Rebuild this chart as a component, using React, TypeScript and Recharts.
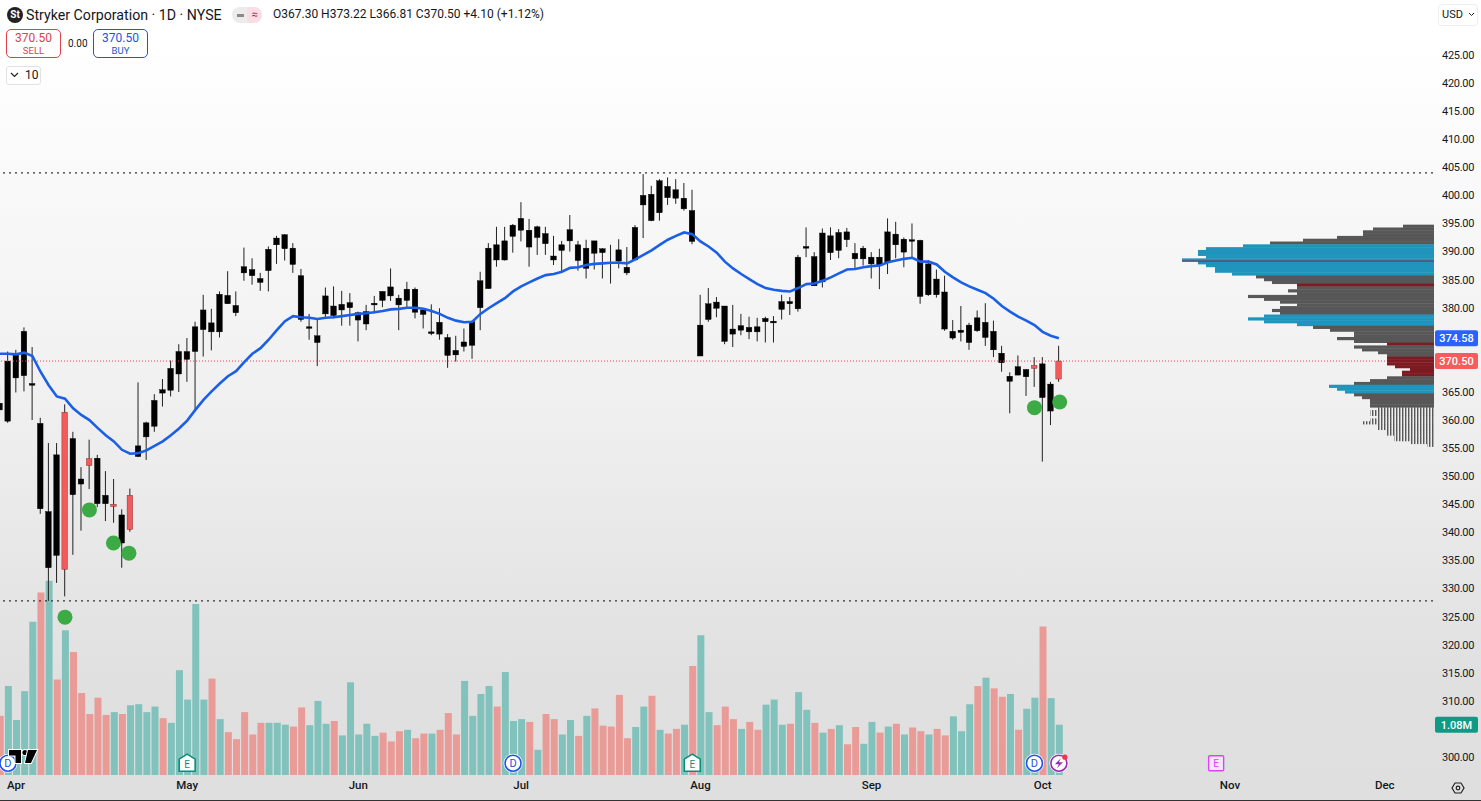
import { Bar, BarChart, Cell, ComposedChart, Line, ReferenceDot, ReferenceLine, XAxis, YAxis } from 'recharts'

const highs = [
  366.0, 372.2, 372.5, 376.5, 373.0, 360.4, 355.9, 355.9, 362.8, 357.9,
  351.6, 356.5, 353.8, 350.9, 349.5, 344.1, 347.8, 366.7, 359.7, 364.6,
  367.3, 370.6, 373.5, 374.6, 377.5, 382.3, 379.8, 382.9, 386.5, 382.9,
  390.7, 388.8, 386.2, 390.9, 392.8, 393.1, 391.5, 386.9, 378.9, 378.1,
  383.6, 383.8, 383.0, 382.6, 379.3, 380.5, 382.1, 382.9, 387.0, 382.3,
  384.6, 383.6, 379.9, 380.6, 379.9, 375.3, 375.0, 376.3, 377.7, 386.4,
  391.5, 394.4, 394.4, 394.9, 398.8, 395.8, 394.6, 394.4, 392.8, 391.9,
  396.5, 391.9, 392.1, 391.9, 390.6, 391.2, 392.2, 390.8, 394.7, 403.8,
  401.7, 402.9, 403.2, 402.9, 402.2, 401.0, 382.3, 383.5, 381.9, 380.3,
  380.5, 378.9, 378.4, 378.2, 378.4, 378.5, 382.3, 381.9, 389.4, 394.3,
  389.9, 394.1, 394.3, 394.0, 394.2, 391.5, 391.0, 389.9, 390.5, 395.9,
  395.3, 392.5, 395.0, 392.1, 388.5, 386.8, 385.7, 377.8, 380.3, 377.3,
  379.5, 380.8, 377.7, 373.2, 368.5, 371.5, 369.1, 371.2, 371.2, 366.8, 373.22,
]

const bodyTops = [
  363.0, 370.5, 371.6, 375.8, 366.5, 359.4, 343.7, 353.8, 361.4, 356.7,
  349.5, 353.1, 353.2, 346.6, 345.0, 343.1, 346.6, 355.4, 359.5, 363.5,
  365.4, 369.2, 372.2, 372.2, 376.6, 379.6, 377.3, 382.4, 382.2, 380.4,
  387.3, 386.8, 385.2, 390.4, 392.4, 393.0, 390.6, 385.7, 376.6, 375.0,
  382.1, 380.3, 380.6, 380.9, 379.1, 379.3, 380.8, 382.9, 383.7, 381.7,
  383.3, 383.3, 379.6, 375.7, 377.4, 374.7, 372.4, 373.9, 377.5, 384.8,
  390.6, 391.2, 391.9, 394.7, 395.9, 393.8, 394.4, 393.2, 389.2, 391.2,
  393.9, 391.2, 390.6, 391.9, 390.5, 388.1, 390.3, 387.2, 394.3, 400.0,
  400.2, 402.6, 401.6, 401.0, 399.5, 397.3, 376.9, 380.7, 381.0, 380.3,
  376.2, 376.8, 376.5, 376.6, 378.1, 377.6, 381.1, 381.1, 389.0, 390.9,
  389.1, 393.3, 392.8, 393.4, 393.5, 389.7, 390.6, 389.0, 389.0, 393.5,
  393.1, 392.2, 392.1, 392.0, 387.8, 385.1, 382.8, 375.8, 376.0, 376.9,
  378.2, 377.4, 375.8, 371.9, 367.8, 369.5, 369.0, 369.7, 370.0, 366.4, 370.5,
]

const bodyBottoms = [
  361.8, 359.8, 367.5, 367.9, 366.2, 344.2, 333.7, 335.9, 333.4, 346.7,
  348.6, 351.9, 345.1, 345.1, 344.6, 338.1, 340.5, 353.5, 357.0, 358.9,
  364.8, 365.3, 368.2, 370.8, 372.2, 376.1, 375.7, 375.7, 380.7, 379.1,
  386.2, 385.7, 384.5, 386.6, 391.2, 390.5, 387.7, 377.9, 376.5, 373.8,
  378.9, 378.6, 379.6, 380.0, 377.8, 377.1, 380.5, 381.3, 382.1, 380.5,
  381.3, 379.2, 378.8, 375.4, 375.3, 371.5, 371.6, 373.1, 373.3, 380.0,
  383.4, 388.5, 388.5, 392.7, 393.8, 390.8, 392.5, 391.4, 388.5, 390.2,
  391.9, 388.4, 387.0, 389.7, 389.8, 387.9, 388.3, 386.2, 388.5, 398.3,
  395.5, 396.9, 399.6, 399.5, 397.6, 391.8, 371.4, 377.9, 379.9, 374.0,
  375.3, 376.0, 375.7, 375.7, 377.5, 377.3, 379.7, 380.7, 379.8, 390.6,
  383.9, 384.6, 389.8, 390.2, 392.1, 388.7, 388.7, 387.8, 387.5, 388.0,
  391.2, 389.9, 391.9, 382.0, 382.3, 382.3, 376.2, 374.6, 375.6, 373.8,
  375.9, 374.7, 372.5, 370.2, 366.9, 368.0, 367.7, 369.2, 364.0, 361.6, 367.3,
]

const lows = [
  360.9, 359.5, 364.9, 365.1, 360.0, 343.3, 327.8, 331.0, 328.6, 336.0,
  340.3, 347.7, 344.5, 342.0, 341.7, 333.7, 340.1, 353.4, 352.9, 357.9,
  362.4, 364.2, 365.0, 366.8, 361.8, 371.3, 372.4, 374.7, 380.7, 378.5,
  384.8, 384.1, 383.0, 382.9, 387.8, 388.4, 386.2, 377.5, 374.3, 369.6,
  378.1, 378.1, 376.8, 376.8, 374.0, 376.0, 379.0, 380.1, 381.2, 376.0,
  380.1, 378.1, 376.3, 375.1, 374.3, 369.3, 370.4, 372.2, 370.9, 376.0,
  383.4, 387.3, 388.4, 389.8, 391.8, 387.3, 389.4, 389.4, 387.6, 386.4,
  390.0, 386.6, 385.2, 386.8, 385.2, 384.3, 387.0, 385.8, 388.5, 392.4,
  395.4, 395.5, 398.3, 398.5, 397.3, 391.3, 371.4, 377.5, 378.3, 373.5,
  373.0, 375.1, 374.4, 374.0, 373.8, 373.8, 377.9, 378.7, 379.3, 389.0,
  383.9, 383.6, 388.5, 388.8, 390.8, 387.0, 387.5, 385.2, 383.3, 386.0,
  388.8, 387.2, 388.8, 380.7, 382.1, 381.8, 375.9, 374.3, 374.0, 372.5,
  375.7, 373.2, 371.2, 368.6, 361.2, 368.0, 364.3, 365.9, 352.6, 359.1, 366.81,
]

const movingAverage = [
  371.8, 371.8, 371.7, 372.0, 371.4, 368.6, 366.2, 364.2, 363.8, 362.1,
  360.9, 360.0, 358.6, 357.3, 356.2, 354.7, 354.0, 354.1, 354.6, 355.4,
  356.2, 357.3, 358.5, 359.9, 361.8, 363.6, 365.1, 366.5, 367.8, 368.7,
  370.3, 371.8, 372.8, 374.3, 376.0, 377.6, 378.5, 378.3, 378.2, 378.0,
  378.2, 378.3, 378.5, 378.7, 378.9, 379.0, 379.2, 379.4, 379.7, 379.8,
  380.0, 380.0, 379.8, 379.4, 378.9, 378.2, 377.7, 377.4, 377.5, 378.9,
  379.9, 380.8, 381.7, 382.9, 383.8, 384.5, 385.2, 385.8, 386.0, 386.4,
  387.1, 387.2, 387.6, 387.8, 387.9, 388.0, 388.0, 387.9, 388.6, 389.4,
  390.2, 391.2, 392.1, 392.8, 393.4, 393.1, 391.8, 390.9, 389.8, 388.2,
  387.0, 386.0, 385.1, 384.2, 383.5, 383.2, 383.0, 382.9, 383.5, 384.2,
  384.3, 384.8, 385.4, 386.1, 386.8, 386.9, 387.2, 387.4, 387.5, 388.1,
  388.4, 388.7, 388.9, 388.2, 388.2, 387.7, 386.4, 385.4, 384.5, 383.8,
  383.2, 382.6, 381.6, 380.3, 379.3, 378.4, 377.7, 376.9, 375.7, 375.0, 374.58,
]

// millions of shares
const volumes = [
  1.27, 1.91, 1.18, 1.80, 3.29, 3.92, 4.17, 2.05, 3.11, 2.64,
  1.76, 1.31, 1.66, 1.29, 1.35, 1.31, 1.50, 1.52, 1.35, 1.47,
  1.22, 1.12, 2.25, 1.62, 3.67, 1.62, 2.07, 1.20, 0.92, 0.77,
  1.35, 0.87, 1.12, 1.12, 1.12, 1.08, 1.04, 1.45, 1.07, 1.59,
  1.10, 1.16, 0.85, 1.99, 0.87, 1.10, 0.84, 0.91, 0.72, 0.94,
  0.97, 0.79, 0.89, 0.89, 0.97, 1.33, 0.87, 2.02, 1.27, 1.74,
  1.91, 1.47, 2.21, 1.16, 1.20, 1.14, 0.54, 1.31, 1.20, 0.87,
  1.18, 0.84, 1.27, 1.43, 1.06, 1.04, 1.72, 0.79, 1.03, 1.47,
  1.70, 0.97, 0.89, 0.99, 1.08, 2.34, 3.00, 1.35, 1.07, 1.47,
  1.20, 0.99, 1.14, 0.97, 1.51, 1.62, 1.08, 1.10, 1.78, 1.40,
  1.12, 0.91, 0.99, 1.07, 0.66, 1.03, 0.67, 1.14, 0.91, 1.04,
  1.10, 0.87, 1.02, 0.94, 0.87, 0.99, 0.85, 1.26, 0.94, 1.52,
  1.91, 2.09, 1.86, 1.68, 1.74, 0.97, 1.42, 1.66, 3.19, 1.65, 1.08,
]

const redVolumeBars = [
  0, 5, 7, 9, 10, 11, 12, 13, 15, 20, 26, 28, 29, 30, 31, 32, 36, 37, 41, 47, 48, 49, 51, 52, 54, 55, 56, 61, 65, 67,
  68, 71, 73, 74, 75, 76, 77, 80, 82, 83, 85, 88, 89, 90, 92, 93, 97, 100, 102, 104, 105, 108, 110, 112, 113, 115,
  116, 120, 122, 123, 125, 128,
]
const redCandleBars = [8, 11, 14, 16, 127, 130]

const monthTicks = [2, 23, 44, 64, 86, 107, 128, 151, 170]
const monthLabels = ['Apr', 'May', 'Jun', 'Jul', 'Aug', 'Sep', 'Oct', 'Nov', 'Dec']
const priceTicks = [300, 310, 315, 320, 325, 330, 335, 340, 345, 350, 355, 360, 365, 380, 385, 390, 395, 400, 405, 410, 415, 420, 425]

const signalBars = [8, 11, 13.95, 15.85, 127, 130.1]
const signalPrices = [324.9, 344.0, 338.1, 336.3, 362.2, 363.2]
const dividendBars = [1, 63, 127]
const earningsBars = [23, 85]
const futureEarningsBar = 149.3
const alertBar = 130
const markerLevel = 298.9

const profileLevels = [
  394.5, 394, 393.5, 393, 392.5, 392, 391.5, 391, 390.5, 390, 389.5, 389, 388.5, 388, 387.5, 387, 386.5, 386, 385.5, 385,
  384.5, 384, 383.5, 383, 382.5, 382, 381.5, 381, 380.5, 380, 379.5, 379, 378.5, 378, 377.5, 377, 376.5, 376, 375.5, 375,
  374.5, 374, 373.5, 373, 372.5, 372, 371.5, 371, 370.5, 370, 369.5, 369, 368.5, 368, 367.5, 367, 366.5, 366, 365.5, 365,
  364.5, 364, 363.5, 363, 362.5, 362, 361.5, 361, 360.5, 360, 359.5, 359, 358.5, 358, 357.5, 357, 356.5, 356, 355.5,
]
const profileVolumes = [
  31, 61, 71, 71, 97, 131, 164, 191, 228, 236, 236, 228, 252, 236, 228, 219, 219, 202, 178, 170,
  162, 137, 137, 146, 137, 186, 170, 154, 137, 154, 162, 154, 170, 186, 170, 137, 121, 104, 80, 80,
  97, 80, 47, 80, 72, 56, 47, 47, 47, 47, 39, 24, 32, 32, 47, 64, 80, 105, 97, 89,
  80, 72, 64, 64, 64, 56, 64, 64, 56, 64, 72, 56, 56, 47, 47, 40, 40, 24, 7,
]
const profileBlueLevels = [391, 390.5, 390, 389.5, 389, 388.5, 388, 387.5, 387, 386.5, 386, 378.5, 378, 377.5, 377, 366, 365.5, 365]
const profileRedLevels = [384, 373.5, 371, 370.5, 370, 369.5, 369, 368.5, 368]
const profileThinBelow = 362.2
const pocLevel = 388.3
const pocVolume = 252

const upperLevel = 404
const lowerLevel = 327.8
const lastPrice = 370.5
const lastAverage = 374.58
const lastVolume = 1.08

const rows = highs.map((high, bar) => ({
  bar,
  high,
  low: lows[bar],
  bodyTop: bodyTops[bar],
  bodyBottom: bodyBottoms[bar],
  range: [lows[bar], high],
  ma: movingAverage[bar],
  volume: volumes[bar],
}))

const profileRows = profileLevels.map((level, index) => ({ level, volume: profileVolumes[index] }))

const fontFamily = 'Roboto, sans-serif'
const xDomain = [0.025, 175.92]
const priceDomain = [296.795, 434.79]

function CandleShape(props: any) {
  const { x, y, width, height, payload } = props
  const unit = height / (payload.high - payload.low)
  const center = x + width / 2
  const top = y + (payload.high - payload.bodyTop) * unit
  const bottom = y + (payload.high - payload.bodyBottom) * unit
  const isRed = redCandleBars.includes(payload.bar)
  return (
    <g>
      <line x1={center} x2={center} y1={y} y2={y + height} stroke="#222" strokeWidth={1} />
      <rect
        x={x}
        y={top}
        width={width}
        height={Math.max(bottom - top, 1.5)}
        fill={isRed ? '#f15b5b' : '#000'}
        stroke={isRed ? '#7a1f1f' : '#000'}
        strokeWidth={0.4}
      />
    </g>
  )
}

function profileFill(level: number) {
  if (level < profileThinBelow) return 'url(#profile-hatch)'
  if (profileBlueLevels.includes(level)) return '#1f94bd'
  if (profileRedLevels.includes(level)) return '#7d1a22'
  return '#575757'
}

// rows touch each other, so each one is drawn a little taller than its band
function ProfileRow(props: any) {
  const { x, y, width, height, payload } = props
  const middle = y + height / 2
  return (
    <rect
      x={Math.min(x, x + width)}
      y={middle - 1.6}
      width={Math.abs(width)}
      height={3.2}
      fill={profileFill(payload.level)}
    />
  )
}

function PriceTag({ viewBox, text, fill }: { viewBox?: any; text: string; fill: string }) {
  const left = viewBox.x + viewBox.width + 2
  return (
    <g>
      <rect x={left} y={viewBox.y - 8} width={43} height={16} rx={2} fill={fill} />
      <text x={left + 21.5} y={viewBox.y + 4} textAnchor="middle" fontSize={11} fontWeight={500} fill="#fff" fontFamily={fontFamily}>
        {text}
      </text>
    </g>
  )
}

function DividendMark({ cx, cy }: any) {
  return (
    <g>
      <circle cx={cx} cy={cy} r={9.5} fill="#fff" />
      <circle cx={cx} cy={cy} r={8} fill="#fff" stroke="#1e53e5" strokeWidth={1.6} />
      <text x={cx} y={cy + 4} textAnchor="middle" fontSize={11} fill="#1e53e5" fontFamily={fontFamily}>
        D
      </text>
    </g>
  )
}

function EarningsMark({ cx, cy }: any) {
  return (
    <g>
      <path
        d={`M${cx - 8} ${cy - 4} L${cx} ${cy - 9} L${cx + 8} ${cy - 4} V${cy + 8} H${cx - 8} Z`}
        fill="#fff"
        stroke="#0b8f79"
        strokeWidth={1.6}
      />
      <text x={cx} y={cy + 5} textAnchor="middle" fontSize={10} fill="#0b8f79" fontFamily={fontFamily}>
        E
      </text>
    </g>
  )
}

function FutureEarningsMark({ cx, cy }: any) {
  return (
    <g>
      <rect x={cx - 7.5} y={cy - 7.5} width={15} height={15} rx={1} fill="#f8e6fb" stroke="#e040fb" strokeWidth={1.4} />
      <text x={cx} y={cy + 4} textAnchor="middle" fontSize={10} fill="#e040fb" fontFamily={fontFamily}>
        E
      </text>
    </g>
  )
}

function AlertMark({ cx, cy }: any) {
  return (
    <g>
      <circle cx={cx} cy={cy} r={9.5} fill="#fff" />
      <circle cx={cx} cy={cy} r={8} fill="#fff" stroke="#9c27b0" strokeWidth={1.6} />
      <path d={`M${cx + 2} ${cy - 5} L${cx - 4} ${cy + 1} H${cx} L${cx - 2} ${cy + 5} L${cx + 4} ${cy - 1} H${cx} Z`} fill="#9c27b0" />
      <circle cx={cx + 6} cy={cy - 6} r={2.6} fill="#f23645" />
    </g>
  )
}

function TradeBox({ left, price, label, color }: { left: number; price: string; label: string; color: string }) {
  return (
    <div
      style={{
        position: 'absolute',
        left,
        top: 29,
        width: 55,
        height: 29,
        boxSizing: 'border-box',
        border: `1px solid ${color}`,
        borderRadius: 5,
        background: '#fff',
        color,
        textAlign: 'center',
        fontSize: 12,
        lineHeight: '14px',
        paddingTop: 1,
      }}
    >
      {price}
      <div style={{ fontSize: 9.5, lineHeight: '11px' }}>{label}</div>
    </div>
  )
}

function Header() {
  return (
    <div style={{ position: 'absolute', left: 0, top: 0, width: 1481, height: 100, fontFamily, color: '#131722', pointerEvents: 'none' }}>
      <div
        style={{
          position: 'absolute',
          left: 7,
          top: 7,
          width: 16,
          height: 16,
          borderRadius: 8,
          background: '#222',
          color: '#fff',
          fontSize: 10,
          fontWeight: 700,
          lineHeight: '16px',
          textAlign: 'center',
        }}
      >
        St
      </div>
      <div style={{ position: 'absolute', left: 26, top: 6, fontSize: 14.2, lineHeight: '18px', whiteSpace: 'nowrap' }}>
        Stryker Corporation · 1D · NYSE
      </div>
      <div style={{ position: 'absolute', left: 232, top: 7, width: 30, height: 16, borderRadius: 8, background: '#ececec', overflow: 'hidden' }}>
        <div style={{ position: 'absolute', left: 5, top: 7, width: 7, height: 2.5, background: '#8a8a8a' }} />
        <div style={{ position: 'absolute', right: 0, top: 0, width: 15, height: 16, background: '#fbdde6', color: '#c2185b', fontSize: 11, lineHeight: '15px', textAlign: 'center' }}>
          ≈
        </div>
      </div>
      <div style={{ position: 'absolute', left: 273, top: 6, fontSize: 12, lineHeight: '17px', whiteSpace: 'nowrap' }}>
        O367.30 H373.22 L366.81 C370.50 +4.10 (+1.12%)
      </div>
      <TradeBox left={6} price="370.50" label="SELL" color="#e03e4a" />
      <div style={{ position: 'absolute', left: 68, top: 38, fontSize: 10, lineHeight: '12px' }}>0.00</div>
      <TradeBox left={93} price="370.50" label="BUY" color="#2055d8" />
      <div
        style={{
          position: 'absolute',
          left: 6,
          top: 66,
          width: 35,
          height: 19,
          boxSizing: 'border-box',
          border: '1px solid #e2e2e2',
          borderRadius: 3,
          background: '#fff',
          fontSize: 12,
          lineHeight: '17px',
          paddingLeft: 18,
        }}
      >
        10
      </div>
      <svg style={{ position: 'absolute', left: 10, top: 72 }} width={9} height={6}>
        <path d="M1 1 L4.5 4.5 L8 1" fill="none" stroke="#222" strokeWidth={1.2} />
      </svg>
      <div
        style={{
          position: 'absolute',
          left: 1438,
          top: 4,
          width: 40,
          height: 22,
          boxSizing: 'border-box',
          border: '1px solid #eee',
          borderRadius: 4,
          background: '#fff',
          fontSize: 11,
          lineHeight: '20px',
          paddingLeft: 3,
        }}
      >
        USD
      </div>
      <svg style={{ position: 'absolute', left: 1468, top: 12 }} width={7} height={5}>
        <path d="M1 1 L3.5 3.5 L6 1" fill="none" stroke="#222" strokeWidth={1} />
      </svg>
    </div>
  )
}

function FooterMarks() {
  return (
    <svg style={{ position: 'absolute', left: 0, top: 0, pointerEvents: 'none' }} width={1481} height={801}>
      <g stroke="#fff" strokeWidth={2} paintOrder="stroke" fill="#000">
        <path d="M9 750 H21 V763 H15.5 V755.5 H9 Z" />
        <circle cx={25} cy={752.5} r={2.6} />
        <path d="M28 750 H37 L31 763 H25 Z" />
      </g>
      <g transform="translate(1458 788)" fill="none" stroke="#222" strokeWidth={1.2}>
        <path d="M-6 0 L-3 -5 H3 L6 0 L3 5 H-3 Z" />
        <circle r={1.8} />
      </g>
      <rect x={0} y={800} width={1481} height={1} fill="#333" />
    </svg>
  )
}

export default function App() {
  return (
    <div
      style={{
        position: 'absolute',
        left: 0,
        top: 0,
        width: 1481,
        height: 801,
        overflow: 'hidden',
        background: 'linear-gradient(#ffffff 0%, #ffffff 6%, #f0f0f0 50%, #e0e0e0 85%, #dfdfdf 100%)',
      }}
    >
      <ComposedChart width={1481} height={801} data={rows} margin={{ top: 0, right: 0, bottom: 0, left: 0 }}>
        <XAxis
          dataKey="bar"
          type="number"
          domain={xDomain}
          allowDataOverflow
          ticks={monthTicks}
          interval={0}
          tickFormatter={(value: number) => monthLabels[monthTicks.indexOf(value)]}
          axisLine={false}
          tickLine={false}
          tickSize={0}
          tickMargin={6}
          height={26}
          tick={{ fill: '#131722', fontSize: 11.5, fontWeight: 500, fontFamily }}
        />
        <XAxis xAxisId="vol" dataKey="bar" type="number" domain={xDomain} allowDataOverflow hide />
        <YAxis
          yAxisId="price"
          orientation="right"
          type="number"
          domain={priceDomain}
          allowDataOverflow
          ticks={priceTicks}
          interval={0}
          tickFormatter={(value: number) => value.toFixed(2)}
          axisLine={false}
          tickLine={false}
          tickSize={0}
          tickMargin={9}
          width={48}
          tick={{ fill: '#131722', fontSize: 11, letterSpacing: -0.3, fontFamily }}
        />
        <YAxis yAxisId="vol" type="number" domain={[0, 16.64]} allowDataOverflow hide />

        <Bar xAxisId="vol" yAxisId="vol" dataKey="volume" barSize={7} isAnimationActive={false}>
          {rows.map((row) => (
            <Cell key={row.bar} fill={redVolumeBars.includes(row.bar) ? '#e99b97' : '#82c2bc'} />
          ))}
        </Bar>

        <ReferenceLine yAxisId="price" y={upperLevel} stroke="#333" strokeDasharray="2 4" strokeWidth={1.2} />
        <ReferenceLine yAxisId="price" y={lowerLevel} stroke="#333" strokeDasharray="2 4" strokeWidth={1.2} />
        <ReferenceLine
          yAxisId="price"
          y={lastPrice}
          stroke="#e8434f"
          strokeDasharray="1 2"
          label={(p: any) => <PriceTag viewBox={p.viewBox} text="370.50" fill="#f75b5b" />}
        />
        <ReferenceLine
          yAxisId="price"
          y={lastAverage}
          stroke="none"
          label={(p: any) => <PriceTag viewBox={p.viewBox} text="374.58" fill="#2962ff" />}
        />
        <ReferenceLine
          xAxisId="vol"
          yAxisId="vol"
          y={lastVolume}
          stroke="none"
          label={(p: any) => <PriceTag viewBox={p.viewBox} text="1.08M" fill="#0f9a85" />}
        />

        {signalBars.map((bar, index) => (
          <ReferenceDot key={bar} yAxisId="price" x={bar} y={signalPrices[index]} r={7.5} fill="#3cab46" stroke="none" />
        ))}

        <Bar yAxisId="price" dataKey="range" barSize={5.6} shape={CandleShape} isAnimationActive={false} />
        <Line yAxisId="price" dataKey="ma" type="linear" stroke="#1a5fe6" strokeWidth={2.6} dot={false} isAnimationActive={false} />

        {dividendBars.map((bar) => (
          <ReferenceDot key={bar} yAxisId="price" x={bar} y={markerLevel} shape={DividendMark} />
        ))}
        {earningsBars.map((bar) => (
          <ReferenceDot key={bar} yAxisId="price" x={bar} y={markerLevel} shape={EarningsMark} />
        ))}
        <ReferenceDot yAxisId="price" x={futureEarningsBar} y={markerLevel} shape={FutureEarningsMark} />
        <ReferenceDot yAxisId="price" x={alertBar} y={markerLevel} shape={AlertMark} />
      </ComposedChart>

      <div style={{ position: 'absolute', left: 1174, top: 0, pointerEvents: 'none' }}>
        <BarChart width={260} height={775} layout="vertical" data={profileRows} margin={{ top: 0, right: 0, bottom: 0, left: 0 }}>
          <defs>
            <pattern id="profile-hatch" width={3} height={3} patternUnits="userSpaceOnUse">
              <rect width={1.4} height={3} fill="#575757" />
            </pattern>
          </defs>
          <XAxis type="number" domain={[0, 260]} reversed hide />
          <YAxis type="number" dataKey="level" domain={priceDomain} allowDataOverflow reversed hide />
          <Bar dataKey="volume" barSize={2.8} shape={ProfileRow} isAnimationActive={false} />
          <ReferenceLine
            segment={[
              { x: 0, y: pocLevel },
              { x: pocVolume, y: pocLevel },
            ]}
            stroke="#8e1c3a"
            strokeWidth={1}
          />
        </BarChart>
      </div>

      <Header />
      <FooterMarks />
    </div>
  )
}
